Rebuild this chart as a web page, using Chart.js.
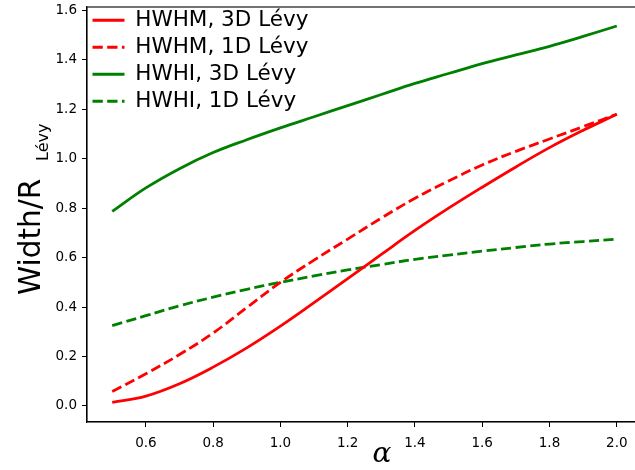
<!DOCTYPE html>
<html>
<head>
<meta charset="utf-8">
<script src="https://cdn.jsdelivr.net/npm/chart.js@4.4.1/dist/chart.umd.min.js"></script>
<style>
  html, body { margin: 0; padding: 0; background: #fff; overflow: hidden; }
  canvas { display: block; }
</style>
</head>
<body>
<canvas id="widthChart" width="645" height="470"></canvas>
<script>
// values
const alphaVals = [0.5, 0.6, 0.7, 0.8, 0.9, 1.0, 1.1, 1.2, 1.3, 1.4, 1.5, 1.6, 1.7, 1.8, 1.9, 2.0];
const hwhm3D = [0.014, 0.04, 0.09, 0.157, 0.235, 0.323, 0.418, 0.515, 0.613, 0.71, 0.80, 0.885, 0.967, 1.045, 1.115, 1.18];
const hwhm1D = [0.058, 0.13, 0.208, 0.295, 0.398, 0.50, 0.59, 0.675, 0.76, 0.84, 0.91, 0.975, 1.03, 1.08, 1.13, 1.18];
const hwhi3D = [0.787, 0.882, 0.96, 1.025, 1.077, 1.125, 1.17, 1.215, 1.26, 1.305, 1.345, 1.385, 1.42, 1.455, 1.495, 1.537];
const hwhi1D = [0.325, 0.365, 0.405, 0.44, 0.472, 0.50, 0.526, 0.55, 0.572, 0.593, 0.61, 0.626, 0.641, 0.655, 0.665, 0.675];

const seriesNames = ["HWHM, 3D Lévy", "HWHM, 1D Lévy", "HWHI, 3D Lévy", "HWHI, 1D Lévy"];
const xTicks = [0.6, 0.8, 1.0, 1.2, 1.4, 1.6, 1.8, 2.0];
const yTicks = [0.0, 0.2, 0.4, 0.6, 0.8, 1.0, 1.2, 1.4, 1.6];

const RED = "#ff0000";
const GREEN = "#008000";
const DASH = [10.3, 4.4];
const FONT = "'DejaVu Sans', sans-serif";

function pts(ys) {
    return alphaVals.map((x, i) => ({ x: x, y: ys[i] }));
}

function line(label, ys, color, dashed) {
    return {
        label: label,
        data: pts(ys),
        borderColor: color,
        backgroundColor: color,
        borderWidth: 2.8,
        borderDash: dashed ? DASH : [],
        pointRadius: 0,
        tension: 0.4,
        fill: false
    };
}

// frame + axis titles (with the subscript on the y label)
const decor = {
    id: "decor",
    afterLayout(chart) {
        // vertical chartArea legend starts at y=0, move it down a bit
        chart.legend.top += 4;
        chart.legend.bottom += 4;
    },
    afterDraw(chart) {
        const { ctx, chartArea: a } = chart;
        ctx.save();
        ctx.strokeStyle = "#000";
        ctx.lineWidth = 1.1;
        ctx.strokeRect(a.left, a.top, a.right - a.left, a.bottom - a.top);

        ctx.fillStyle = "#000";
        ctx.textBaseline = "alphabetic";
        ctx.font = "italic 28px 'DejaVu Serif', serif";
        ctx.textAlign = "center";
        ctx.fillText("α", 382, 462);

        ctx.translate(40, 295);
        ctx.rotate(-Math.PI / 2);
        ctx.textAlign = "left";
        ctx.font = "29.5px " + FONT;
        ctx.fillText("Width/R", 0, 0);
        ctx.font = "16px " + FONT;
        ctx.fillText("Lévy", 134, 8);
        ctx.restore();
    }
};

new Chart(document.getElementById("widthChart"), {
    type: "line",
    data: {
        datasets: [
            line(seriesNames[0], hwhm3D, RED, false),
            line(seriesNames[1], hwhm1D, RED, true),
            line(seriesNames[2], hwhi3D, GREEN, false),
            line(seriesNames[3], hwhi1D, GREEN, true)
        ]
    },
    options: {
        responsive: false,
        animation: false,
        layout: { padding: { left: 0, top: 7, right: 3, bottom: 0 } },
        plugins: {
            title: { display: false },
            tooltip: { enabled: false },
            legend: {
                position: "chartArea",
                align: "start",
                labels: {
                    usePointStyle: true,
                    pointStyle: "line",
                    pointStyleWidth: 32,
                    padding: 5.5,
                    color: "#000",
                    font: { family: FONT, size: 21.5 },
                    generateLabels(chart) {
                        const items = Chart.defaults.plugins.legend.labels.generateLabels(chart);
                        items.forEach(it => {
                            const ds = chart.data.datasets[it.datasetIndex];
                            it.lineDash = ds.borderDash;
                            it.lineWidth = ds.borderWidth;
                            it.strokeStyle = ds.borderColor;
                        });
                        return items;
                    }
                }
            }
        },
        scales: {
            x: {
                type: "linear",
                min: 0.425,
                max: 2.075,
                afterFit(scale) {
                    scale.height = 48;
                    scale.paddingLeft = 0;
                    scale.paddingRight = 0;
                },
                afterBuildTicks(scale) {
                    scale.ticks = xTicks.map(v => ({ value: v }));
                },
                ticks: {
                    padding: 8,
                    color: "#000",
                    font: { family: FONT, size: 13.5 },
                    callback: v => v.toFixed(1)
                },
                grid: { drawOnChartArea: false, tickLength: 5, tickColor: "#000", tickWidth: 1 },
                border: { color: "#000", width: 1.1 }
            },
            y: {
                type: "linear",
                min: -0.065,
                max: 1.614,
                afterFit(scale) {
                    scale.width = 87;
                    scale.paddingTop = 0;
                    scale.paddingBottom = 0;
                },
                afterBuildTicks(scale) {
                    scale.ticks = yTicks.map(v => ({ value: v }));
                },
                ticks: {
                    padding: 5,
                    color: "#000",
                    font: { family: FONT, size: 13.5 },
                    callback: v => v.toFixed(1)
                },
                grid: { drawOnChartArea: false, tickLength: 5, tickColor: "#000", tickWidth: 1 },
                border: { color: "#000", width: 1.1 }
            }
        }
    },
    plugins: [decor]
});
</script>
</body>
</html>
